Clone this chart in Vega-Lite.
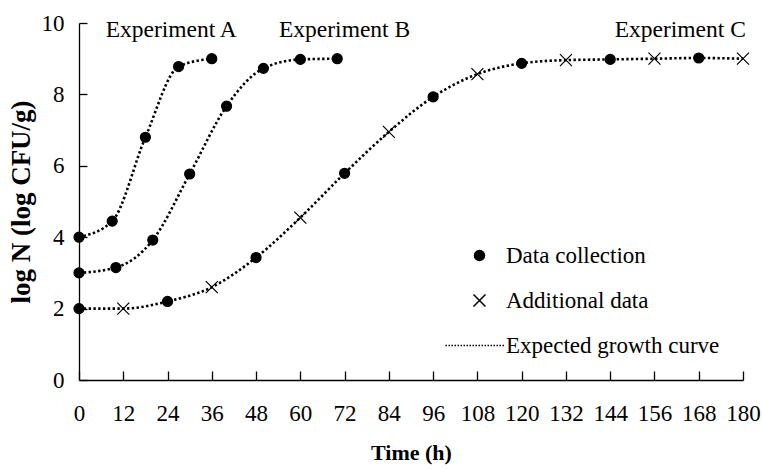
{
  "$schema": "https://vega.github.io/schema/vega-lite/v6.json",
  "autosize": {"type": "none"},
  "padding": {"left": 79, "top": 23, "right": 19, "bottom": 89},
  "width": 664,
  "height": 357,
  "background": "white",
  "config": {
    "view": {"stroke": null},
    "font": "Liberation Serif",
    "axis": {
      "grid": false,
      "domainColor": "black",
      "domainWidth": 1.3,
      "tickColor": "black",
      "tickWidth": 1.3,
      "labelFont": "Liberation Serif",
      "labelFontSize": 23,
      "labelColor": "black",
      "labelOverlap": false,
      "labelFlush": false,
      "titleFont": "Liberation Serif",
      "titleFontWeight": "bold",
      "titleColor": "black"
    }
  },
  "datasets": {
    "growth": [
      {"experiment": "A", "time": 0, "logN": 4.0, "type": "Data collection"},
      {"experiment": "A", "time": 9, "logN": 4.45, "type": "Data collection"},
      {"experiment": "A", "time": 18, "logN": 6.8, "type": "Data collection"},
      {"experiment": "A", "time": 27, "logN": 8.78, "type": "Data collection"},
      {"experiment": "A", "time": 36, "logN": 9.0, "type": "Data collection"},
      {"experiment": "B", "time": 0, "logN": 3.0, "type": "Data collection"},
      {"experiment": "B", "time": 10, "logN": 3.15, "type": "Data collection"},
      {"experiment": "B", "time": 20, "logN": 3.92, "type": "Data collection"},
      {"experiment": "B", "time": 30, "logN": 5.77, "type": "Data collection"},
      {"experiment": "B", "time": 40, "logN": 7.67, "type": "Data collection"},
      {"experiment": "B", "time": 50, "logN": 8.73, "type": "Data collection"},
      {"experiment": "B", "time": 60, "logN": 8.98, "type": "Data collection"},
      {"experiment": "B", "time": 70, "logN": 9.0, "type": "Data collection"},
      {"experiment": "C", "time": 0, "logN": 2.0, "type": "Data collection"},
      {"experiment": "C", "time": 12, "logN": 2.0, "type": "Additional data"},
      {"experiment": "C", "time": 24, "logN": 2.2, "type": "Data collection"},
      {"experiment": "C", "time": 36, "logN": 2.6, "type": "Additional data"},
      {"experiment": "C", "time": 48, "logN": 3.43, "type": "Data collection"},
      {"experiment": "C", "time": 60, "logN": 4.55, "type": "Additional data"},
      {"experiment": "C", "time": 72, "logN": 5.79, "type": "Data collection"},
      {"experiment": "C", "time": 84, "logN": 6.95, "type": "Additional data"},
      {"experiment": "C", "time": 96, "logN": 7.93, "type": "Data collection"},
      {"experiment": "C", "time": 108, "logN": 8.57, "type": "Additional data"},
      {"experiment": "C", "time": 120, "logN": 8.87, "type": "Data collection"},
      {"experiment": "C", "time": 132, "logN": 8.96, "type": "Additional data"},
      {"experiment": "C", "time": 144, "logN": 8.98, "type": "Data collection"},
      {"experiment": "C", "time": 156, "logN": 9.0, "type": "Additional data"},
      {"experiment": "C", "time": 168, "logN": 9.02, "type": "Data collection"},
      {"experiment": "C", "time": 180, "logN": 9.0, "type": "Additional data"}
    ],
    "experiments": [
      {"name": "Experiment A", "time": 25, "logN": 9.6},
      {"name": "Experiment B", "time": 72, "logN": 9.6},
      {"name": "Experiment C", "time": 163, "logN": 9.6}
    ]
  },
  "layer": [
    {
      "data": {"name": "growth"},
      "mark": {"type": "line", "interpolate": "monotone", "color": "black", "strokeWidth": 2.6, "strokeDash": [2.4, 2.4]},
      "encoding": {
        "x": {
          "field": "time", "type": "quantitative",
          "scale": {"domain": [0, 180], "nice": false, "zero": false},
          "axis": {
            "values": [0, 12, 24, 36, 48, 60, 72, 84, 96, 108, 120, 132, 144, 156, 168, 180],
            "tickSize": -9,
            "labelPadding": 31,
            "title": "Time (h)",
            "titleFontSize": 22,
            "titlePadding": 17
          }
        },
        "y": {
          "field": "logN", "type": "quantitative",
          "scale": {"domain": [0, 10], "nice": false},
          "axis": {
            "values": [0, 2, 4, 6, 8, 10],
            "tickSize": -8,
            "labelPadding": 23,
            "title": "log N (log CFU/g)",
            "titleFontSize": 27,
            "titlePadding": 6
          }
        },
        "detail": {"field": "experiment"}
      }
    },
    {
      "data": {"name": "growth"},
      "mark": {"type": "point", "filled": true, "color": "black", "stroke": "black", "strokeWidth": 1.2, "opacity": 1, "size": 100},
      "encoding": {
        "x": {"field": "time", "type": "quantitative"},
        "y": {"field": "logN", "type": "quantitative"},
        "shape": {
          "field": "type", "type": "nominal",
          "scale": {
            "domain": ["Data collection", "Additional data", "Expected growth curve"],
            "range": [
              "circle",
              "M-1.2,-1.2L1.2,1.2M-1.2,1.2L1.2,-1.2",
              "M-6.8,0L-6.5,0M-6.2,0L-5.9,0M-5.6,0L-5.3,0M-5,0L-4.7,0M-4.4,0L-4.1,0M-3.8,0L-3.5,0M-3.2,0L-2.9,0M-2.6,0L-2.3,0M-2,0L-1.7,0M-1.4,0L-1.1,0M-0.8,0L-0.5,0M-0.2,0L0.1,0M0.4,0L0.7,0M1,0L1.3,0M1.6,0L1.9,0M2.2,0L2.5,0M2.8,0L3.1,0M3.4,0L3.7,0M4,0L4.3,0M4.6,0L4.9,0"
            ]
          },
          "legend": {
            "title": null,
            "orient": "none",
            "legendX": 364,
            "legendY": 221,
            "padding": 0,
            "symbolSize": 100,
            "symbolOffset": 25,
            "labelOffset": 15,
            "rowPadding": 21,
            "labelFont": "Liberation Serif",
            "labelFontSize": 23,
            "labelColor": "black",
            "labelLimit": 400,
            "encode": {
              "symbols": {
                "update": {
                  "fill": {"value": "black"},
                  "stroke": {"value": "black"},
                  "strokeWidth": {"value": 1.4},
                  "opacity": {"value": 1}
                }
              }
            }
          }
        }
      }
    },
    {
      "data": {"name": "experiments"},
      "mark": {"type": "text", "font": "Liberation Serif", "fontSize": 23.5, "color": "black", "align": "center", "baseline": "alphabetic"},
      "encoding": {
        "x": {"field": "time", "type": "quantitative"},
        "y": {"field": "logN", "type": "quantitative"},
        "text": {"field": "name"}
      }
    }
  ]
}
